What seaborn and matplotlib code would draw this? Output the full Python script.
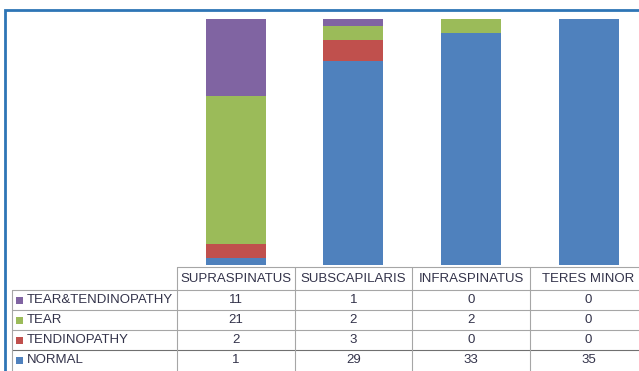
import numpy as np
import pandas as pd
import matplotlib
matplotlib.use("Agg")
import matplotlib.pyplot as plt
from matplotlib.lines import Line2D
from matplotlib.patches import Rectangle
import seaborn as sns

# ---- data ----
categories = ["SUPRASPINATUS", "SUBSCAPILARIS", "INFRASPINATUS", "TERES MINOR"]
series_names = ["TEAR&TENDINOPATHY", "TEAR", "TENDINOPATHY", "NORMAL"]  # table order (top to bottom)
tear_tendinopathy = [11, 1, 0, 0]
tear = [21, 2, 2, 0]
tendinopathy = [2, 3, 0, 0]
normal = [1, 29, 33, 35]

colors = {
    "NORMAL": "#4F81BD",
    "TENDINOPATHY": "#C0504D",
    "TEAR": "#9BBB59",
    "TEAR&TENDINOPATHY": "#8064A2",
}
series_values = {
    "TEAR&TENDINOPATHY": tear_tendinopathy,
    "TEAR": tear,
    "TENDINOPATHY": tendinopathy,
    "NORMAL": normal,
}

sns.set_theme(style="white")
plt.rcParams["font.family"] = ["Liberation Sans", "DejaVu Sans"]

W, H = 639, 371
fig = plt.figure(figsize=(W / 100, H / 100), dpi=100)
fig.patch.set_facecolor("white")

def fx(px):
    return px / W

def fy(py):
    return 1 - py / H

# plot area: columns start at x=177, each 117.6 px wide; bars from y=265 up to y=19
col0 = 177.0
colw = 117.6
ax = fig.add_axes([fx(col0), fy(265), fx(4 * colw), fy(19) - fy(265)])

# stacked bars: draw cumulative totals from top of stack down
stack_order = ["NORMAL", "TENDINOPATHY", "TEAR", "TEAR&TENDINOPATHY"]  # bottom-up
cum = np.zeros(len(categories))
cums = []
for name in stack_order:
    cum = cum + np.array(series_values[name])
    cums.append((name, cum.copy()))
for name, c in reversed(cums):
    df = pd.DataFrame({"cat": categories, "val": c})
    sns.barplot(data=df, x="cat", y="val", color=colors[name], saturation=1,
                width=0.51, ax=ax, linewidth=0)

ax.set_ylim(0, 35)
ax.set_xlim(-0.5, 3.5)
ax.axis("off")

# ---- outer blue frame ----
fig.add_artist(Rectangle((fx(5), fy(380)), fx(700), fy(10) - fy(380),
                         transform=fig.transFigure, fill=False,
                         edgecolor="#2E75B6", linewidth=2))

# ---- data table ----
grid = "#A6A6A6"
txtc = "#33334A"
fs = 9.5

def hline(x0, x1, y, color=grid, lw=0.8):
    fig.add_artist(Line2D([fx(x0), fx(x1)], [fy(y), fy(y)],
                          transform=fig.transFigure, color=color, linewidth=lw))

def vline(x, y0, y1, color=grid, lw=0.8):
    fig.add_artist(Line2D([fx(x), fx(x)], [fy(y0), fy(y1)],
                          transform=fig.transFigure, color=color, linewidth=lw))

header_top, header_bot = 267, 290
row_h = 20
hline(col0, 700, header_top)
for i in range(len(series_names)):
    y = header_bot + i * row_h
    col = "#707070" if i == 3 else grid
    hline(12, 700, y, color=col)
hline(12, 700, header_bot + 4 * row_h + 2)
vline(12, header_bot, 400)
for j in range(5):
    vline(col0 + j * colw, header_top, 400)

for j, cat in enumerate(categories):
    fig.text(fx(col0 + (j + 0.5) * colw), fy((header_top + header_bot) / 2), cat,
             ha="center", va="center", fontsize=fs, color=txtc)

for i, name in enumerate(series_names):
    yc = header_bot + (i + 0.5) * row_h
    fig.add_artist(Rectangle((fx(16), fy(yc + 3.5)), fx(7), fy(yc - 3.5) - fy(yc + 3.5),
                             transform=fig.transFigure, facecolor=colors[name],
                             edgecolor="none"))
    fig.text(fx(27), fy(yc), name, ha="left", va="center", fontsize=fs, color=txtc)
    for j, v in enumerate(series_values[name]):
        fig.text(fx(col0 + (j + 0.5) * colw), fy(yc), str(v),
                 ha="center", va="center", fontsize=fs, color=txtc)

fig.savefig("out.png", dpi=100, facecolor="white")
